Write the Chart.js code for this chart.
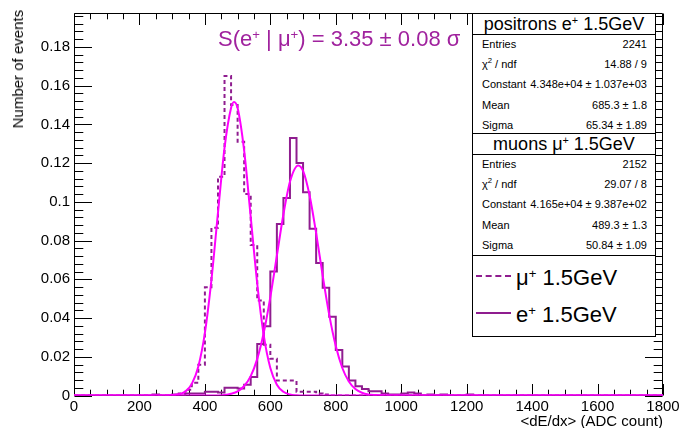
<!DOCTYPE html>
<html>
<head>
<meta charset="utf-8">
<script src="https://cdn.jsdelivr.net/npm/chart.js@4.4.1/dist/chart.umd.min.js"></script>
<style>
html,body{margin:0;padding:0;background:#fff;}
#wrap{position:relative;width:683px;height:428px;overflow:hidden;font-family:"Liberation Sans",Arial,Helvetica,sans-serif;color:#000;}
#c{position:absolute;left:0;top:0;}
.abs{position:absolute;white-space:nowrap;}
.sp{font-size:0.6em;position:relative;top:-0.55em;}
.box{position:absolute;left:472px;width:184px;border:1px solid #000;background:#fff;box-sizing:border-box;}
.ttl{position:absolute;left:0;right:0;top:0;height:20px;line-height:20px;border-bottom:1px solid #000;text-align:center;font-size:18px;}
.row{position:absolute;left:9px;right:8px;height:20px;line-height:20px;font-size:11px;}
.row .v{position:absolute;right:0;top:0;}
.leg{position:absolute;left:472px;top:255px;width:184px;height:82px;border:1px solid #000;background:#fff;box-sizing:border-box;}
.lt{position:absolute;left:43px;font-size:22px;height:26px;line-height:26px;white-space:nowrap;}
.ln{position:absolute;left:3px;width:35px;height:0;}
</style>
</head>
<body>
<div id="wrap">
<canvas id="c" width="683" height="428"></canvas>
<div class="abs" id="title" style="left:218px;top:26px;font-size:22px;line-height:26px;color:#a0229e;">S(e<span class="sp">+</span> | μ<span class="sp">+</span>) = 3.35 ± 0.08 σ</div>
<div class="abs" id="ytitle" style="left:9px;top:10px;font-size:15px;line-height:18px;writing-mode:vertical-rl;transform:rotate(180deg);">Number of events</div>
<div class="abs" id="xtitle" style="right:20px;top:412px;font-size:15px;line-height:18px;">&lt;dE/dx&gt; (ADC count)</div>
<div id="stats"></div>
<div class="leg">
  <div class="ln" style="top:19px;border-top:2px dashed #8f1d8f;"></div>
  <div class="lt" style="top:9px;">μ<span class="sp">+</span> 1.5GeV</div>
  <div class="ln" style="top:56px;border-top:2px solid #8f1d8f;"></div>
  <div class="lt" style="top:46px;">e<span class="sp">+</span> 1.5GeV</div>
</div>
</div>
<script>
// ---- data ----
const binLow = 0;
const binWidth = 20;
const xTicks = [0, 200, 400, 600, 800, 1000, 1200, 1400, 1600, 1800];
const yTicks = [0, 0.02, 0.04, 0.06, 0.08, 0.1, 0.12, 0.14, 0.16, 0.18];

// muons mu+ 1.5GeV, normalized histogram (dashed), bins of 20 from 0
const muonHist = [
  0,0,0,0,0,0,0,0,0,0,
  0,0,0,0,0,0,0.001,0.003,0.0066,0.0159,
  0.0559,0.0866,0.113,0.165,0.150,0.131,0.104,0.0777,0.049,0.0262,
  0.019,0.0077,0.0077,0.0077,0.002,0.002,0.002,0.001,0.0005,0,
  0,0,0,0,0,0,0,0,0,0,
  0,0,0,0,0,0,0,0,0,0,
  0,0,0,0,0,0,0,0,0,0,
  0,0,0,0,0,0,0,0,0,0,
  0,0,0,0,0,0,0,0,0,0
];
// positrons e+ 1.5GeV, normalized histogram (solid)
const positronHist = [
  0,0,0,0,0,0,0,0,0,0,
  0,0,0.0005,0,0,0.0005,0,0.001,0.001,0.001,
  0.002,0.002,0.0015,0.004,0.004,0.0036,0.0055,0.0096,0.0266,0.0358,
  0.064,0.0885,0.102,0.133,0.120,0.105,0.0861,0.0684,0.0556,0.0406,
  0.0235,0.015,0.0078,0.0048,0.0034,0.0022,0.0022,0.001,0.0005,0.0005,
  0.001,0.0015,0.001,0,0.0005,0,0.0005,0,0,0,
  0.0005,0,0,0,0,0,0,0,0,0,
  0,0,0,0,0,0,0,0,0,0,
  0,0,0,0,0,0,0,0,0,0
];
// gaussian fit curves
const muonFitX = [0, 280, 300, 320, 340, 360, 380, 400, 420, 440, 460, 480, 489, 500, 520, 540, 560, 580, 600, 620, 640, 660, 680, 700, 1800];
const muonFitY = [0, 0, 0.0002, 0.0006, 0.0020, 0.0060, 0.0150, 0.0323, 0.0597, 0.0944, 0.1279, 0.1485, 0.1515, 0.1484, 0.1264, 0.0923, 0.0577, 0.0309, 0.0142, 0.0056, 0.0019, 0.0005, 0.0001, 0, 0];
const positronFitX = [0, 420, 460, 480, 500, 520, 540, 560, 580, 600, 620, 640, 660, 685, 700, 720, 740, 760, 780, 800, 820, 840, 860, 880, 900, 920, 960, 1800];
const positronFitY = [0, 0, 0.0003, 0.0009, 0.0021, 0.0049, 0.0100, 0.0189, 0.0325, 0.0508, 0.0722, 0.0936, 0.1104, 0.1188, 0.1160, 0.1033, 0.0838, 0.0619, 0.0416, 0.0255, 0.0142, 0.0072, 0.0033, 0.0014, 0.0005, 0.0002, 0, 0];

const statsE = [["Entries","2241"],["χ<sup style='font-size:0.7em;line-height:0'>2</sup> / ndf","14.88 / 9"],["Constant","4.348e+04 ± 1.037e+03"],["Mean","685.3 ± 1.8"],["Sigma","65.34 ± 1.89"]];
const statsMu = [["Entries","2152"],["χ<sup style='font-size:0.7em;line-height:0'>2</sup> / ndf","29.07 / 8"],["Constant","4.165e+04 ± 9.387e+02"],["Mean","489.3 ± 1.3"],["Sigma","50.84 ± 1.09"]];

const histColor = '#8f1d8f';
const fitColor = '#ff00ff';

// ---- stats boxes ----
function makeBox(top, titleHtml, rows) {
  const b = document.createElement('div');
  b.className = 'box';
  b.style.top = top + 'px';
  b.style.height = '123px';
  let h = '<div class="ttl">' + titleHtml + '</div>';
  rows.forEach((r, i) => {
    h += '<div class="row" style="top:' + (20 + i * 20.2) + 'px"><span>' + r[0] + '</span><span class="v">' + r[1] + '</span></div>';
  });
  b.innerHTML = h;
  document.getElementById('stats').appendChild(b);
}
makeBox(13, 'positrons e<span class="sp">+</span> 1.5GeV', statsE);
makeBox(133, 'muons μ<span class="sp">+</span> 1.5GeV', statsMu);

function histPoints(vals) {
  const pts = vals.map((v, k) => ({x: binLow + k * binWidth, y: v}));
  pts.push({x: binLow + vals.length * binWidth, y: vals[vals.length - 1]});
  return pts;
}

const frameTicks = {
  id: 'frameTicks',
  beforeDatasetsDraw(chart) {
    const {ctx, chartArea: a, scales} = chart;
    const xs = scales.x, ys = scales.y;
    ctx.save();
    ctx.strokeStyle = '#000';
    ctx.lineWidth = 1;
    ctx.beginPath();
    const L = 74.5, R = 662.5, T = Math.round(a.top) + 0.5, B = 395.5;
    ctx.rect(L, T, R - L, B - T);
    const xStep = xTicks[1] - xTicks[0];
    for (let i = 0; i < xTicks.length; i++) {
      for (let j = 0; j < 4; j++) {
        const v = xTicks[i] + j * xStep / 4;
        if (v > xs.max) break;
        const px = Math.round(xs.getPixelForValue(v)) + 0.5;
        const len = j === 0 ? 11.5 : 5.8;
        ctx.moveTo(px, B); ctx.lineTo(px, B - len);
        ctx.moveTo(px, T); ctx.lineTo(px, T + len);
      }
    }
    const yStep = yTicks[1] - yTicks[0];
    for (let i = 0; i < yTicks.length + 1; i++) {
      for (let j = 0; j < 5; j++) {
        const v = i * yStep + j * yStep / 5;
        if (v > ys.max + 1e-9) break;
        const py = Math.round(ys.getPixelForValue(v)) + 0.5;
        const len = j === 0 ? 17.5 : 8.8;
        ctx.moveTo(L, py); ctx.lineTo(L + len, py);
        ctx.moveTo(R, py); ctx.lineTo(R - len, py);
      }
    }
    ctx.stroke();
    ctx.restore();
  }
};

new Chart(document.getElementById('c'), {
  type: 'line',
  data: {
    datasets: [
      {label: 'fit mu', data: muonFitX.map((x, i) => ({x, y: muonFitY[i]})), borderColor: fitColor, borderWidth: 2, pointRadius: 0, cubicInterpolationMode: 'monotone', fill: false},
      {label: 'fit e', data: positronFitX.map((x, i) => ({x, y: positronFitY[i]})), borderColor: fitColor, borderWidth: 2, pointRadius: 0, cubicInterpolationMode: 'monotone', fill: false},
      {label: 'μ+ 1.5GeV', data: histPoints(muonHist), stepped: true, borderColor: histColor, borderWidth: 2, borderDash: [4, 3], pointRadius: 0, fill: false},
      {label: 'e+ 1.5GeV', data: histPoints(positronHist), stepped: true, borderColor: histColor, borderWidth: 2, pointRadius: 0, fill: false}
    ]
  },
  options: {
    responsive: false,
    animation: false,
    events: [],
    layout: {padding: {left: 0, right: 20, top: 9, bottom: 0}},
    plugins: {legend: {display: false}, tooltip: {enabled: false}, title: {display: false}},
    scales: {
      x: {
        type: 'linear', min: 0, max: 1800,
        afterBuildTicks: s => { s.ticks = xTicks.map(v => ({value: v})); },
        afterFit: s => { s.height = 32.5; },
        grid: {display: false, drawTicks: false},
        border: {display: false},
        ticks: {font: {family: 'Liberation Sans', size: 15}, color: '#000', padding: 2, maxRotation: 0, autoSkip: false, callback: v => String(v)}
      },
      y: {
        type: 'linear', min: 0, max: 0.1975,
        afterBuildTicks: s => { s.ticks = yTicks.map(v => ({value: v})); },
        afterFit: s => { s.width = 74; },
        grid: {display: false, drawTicks: false},
        border: {display: false},
        ticks: {font: {family: 'Liberation Sans', size: 15}, color: '#000', padding: 4, autoSkip: false, callback: v => String(+Number(v).toFixed(3))}
      }
    }
  },
  plugins: [frameTicks]
});
</script>
</body>
</html>
